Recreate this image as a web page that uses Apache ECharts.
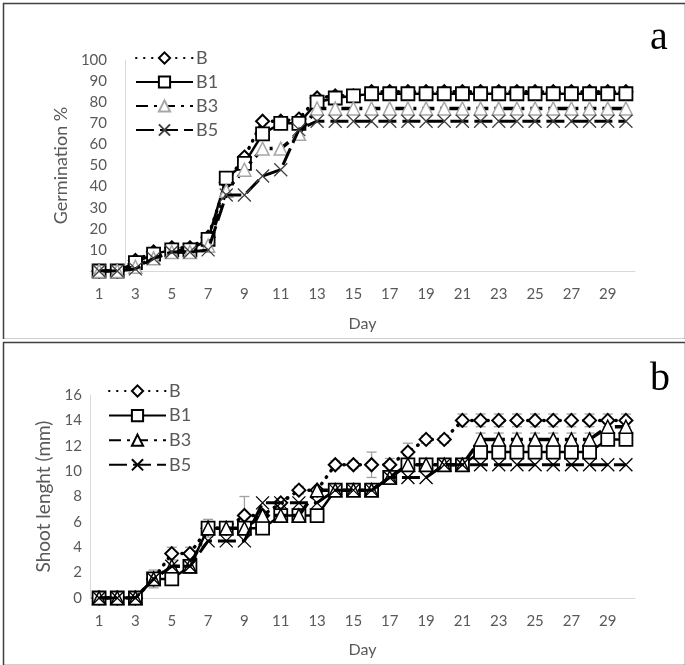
<!DOCTYPE html>
<html><head><meta charset="utf-8">
<script src="https://cdn.jsdelivr.net/npm/echarts@6/dist/echarts.min.js"></script>
<style>html,body{margin:0;padding:0;background:#fff}#a{position:absolute;left:0;top:0;width:685px;height:339px}#b{position:absolute;left:0;top:339px;width:685px;height:326px}</style>
</head><body><div id="a"></div><div id="b"></div>
<script>
const days = [1,2,3,4,5,6,7,8,9,10,11,12,13,14,15,16,17,18,19,20,21,22,23,24,25,26,27,28,29,30];
const ticksX = [1,3,5,7,9,11,13,15,17,19,21,23,25,27,29];
const seriesNames = ['B','B1','B3','B5'];

// Panel a: Germination %
const germB  = [0,0,5,9,11,11,16,42,54,71,71,72,82,83,83,85,85,85,85,85,85,85,85,85,85,85,85,85,85,85];
const germB1 = [0,0,4,8,10,10,15,44,51,65,70,70,80,82,83,84,84,84,84,84,84,84,84,84,84,84,84,84,84,84];
const germB3 = [0,0,2,6,9,9,12,38,48,58,58,65,77,77,77,77,77,77,77,77,77,77,77,77,77,77,77,77,77,77];
const germB5 = [0,0,1,6,9,9,10,36,36,45,48,67,71,71,71,71,71,71,71,71,71,71,71,71,71,71,71,71,71,71];

// Panel b: Shoot length (mm)
const shootB  = [0,0,0,1.5,3.5,3.5,5.5,5.5,6.5,6.5,7.5,8.5,8.5,10.5,10.5,10.5,10.5,11.5,12.5,12.5,14,14,14,14,14,14,14,14,14,14];
const shootB1 = [0,0,0,1.5,1.5,2.5,5.5,5.5,5.5,5.5,6.5,6.5,6.5,8.5,8.5,8.5,9.5,10.5,10.5,10.5,10.5,11.5,11.5,11.5,11.5,11.5,11.5,11.5,12.5,12.5];
const shootB3 = [0,0,0,1.5,2.5,2.5,5.5,5.5,5.5,6.5,6.5,6.5,8.5,8.5,8.5,8.5,9.5,10.5,10.5,10.5,10.5,12.5,12.5,12.5,12.5,12.5,12.5,12.5,13.5,13.5];
const shootB5 = [0,0,0,1.5,2.5,2.5,4.5,4.5,4.5,7.5,7.5,7.5,7.5,8.5,8.5,8.5,9.5,9.5,9.5,10.5,10.5,10.5,10.5,10.5,10.5,10.5,10.5,10.5,10.5,10.5];
const errB  = [0,0,0,0.7,0.5,0.5,0,0,1.5,0,0,0.3,0,0.3,0.3,1,0.5,0.7,0.3,0.3,0.5,0.5,0.5,0.5,0.5,0.5,0.5,0.5,0.5,0.5];
const errB1 = [0,0,0,0,0,0,0.7,0,0,0,0,0,0,0,0,0,0,0,0,0,0,0,0,0,0,0,0,0,0,0];
const errB3 = [0,0,0,0,0,0,0,0,0,0,0,0,0,0,0,0,0,0,0,0,0,0.5,0.5,0.5,0.5,0.5,0.5,0.5,0,0];

const FONT = 'Lato';
const GRAY = '#595959';
const pairs = v => days.map((d,i) => [d, v[i]]);
const XPATH = 'path://M0,0L10,10M10,0L0,10';

function mkSeries(vals, triColor, xColor) {
  const base = [
    {name:'B', symbol:'diamond', symbolSize:13, lineStyle:{color:'#000', width:3.5, type:[0.5,7.5], cap:'round'},
     itemStyle:{color:'#fff', borderColor:'#000', borderWidth:2}},
    {name:'B1', symbol:'rect', symbolSize:13, lineStyle:{color:'#000', width:2.5, type:'solid'},
     itemStyle:{color:'#fff', borderColor:'#000', borderWidth:1.8}},
    {name:'B3', symbol:'triangle', symbolSize:13, lineStyle:{color:'#000', width:3.5, type:[12,6,3,6]},
     itemStyle:{color:'#fff', borderColor:triColor, borderWidth:1.5}},
    {name:'B5', symbol:XPATH, symbolSize:13, lineStyle:{color:'#000', width:3, type:[18,6]},
     itemStyle:{color:'rgba(0,0,0,0)', borderColor:xColor, borderWidth:1.3}}
  ];
  return base.map((s,i) => Object.assign({type:'line', data:pairs(vals[i]), showSymbol:true, animation:false, z:3+i}, s));
}

function xAxisCfg(nameGap) {
  return {type:'value', min:0.5, max:30.5, name:'Day', nameLocation:'middle', nameGap:nameGap,
    nameTextStyle:{color:GRAY, fontSize:16, fontFamily:FONT},
    axisLine:{show:true, lineStyle:{color:'#d9d9d9', width:1}}, axisTick:{show:false},
    splitLine:{show:false},
    axisLabel:{customValues:ticksX, color:GRAY, fontSize:15, fontFamily:FONT, margin:16}};
}

function legendCfg(left, top, gap) {
  return {orient:'vertical', left:left, top:top, itemWidth:57, itemHeight:14, itemGap:gap,
    data:seriesNames, textStyle:{color:GRAY, fontSize:18, fontFamily:FONT, padding:[0,0,0,-2]}, selectedMode:false};
}

function frame(h) {
  return {type:'rect', left:1, top:1, shape:{x:0, y:0, width:682, height:h}, style:{fill:'none', stroke:'#404040', lineWidth:1.5}, silent:true};
}

// Panel a
const chartA = echarts.init(document.getElementById('a'), null, {renderer:'canvas'});
chartA.setOption({
  animation:false,
  grid:{left:90, top:60, width:545, height:211},
  xAxis:xAxisCfg(45),
  yAxis:{type:'value', min:0, max:100, interval:10, offset:-35, name:'Germination %', nameLocation:'middle', nameGap:50,
    nameTextStyle:{color:GRAY, fontSize:18, fontFamily:FONT},
    axisLine:{show:true, lineStyle:{color:'#d9d9d9', width:1}}, axisTick:{show:false}, splitLine:{show:false},
    axisLabel:{color:GRAY, fontSize:15, fontFamily:FONT, margin:18}},
  legend:legendCfg(130, 44, 6),
  series:mkSeries([germB, germB1, germB3, germB5], '#a6a6a6', '#404040'),
  graphic:[frame(336), {type:'text', left:650, top:18, style:{text:'a', font:'40px "Liberation Serif"', fill:'#000'}}]
});

// Panel b
const chartB = echarts.init(document.getElementById('b'), null, {renderer:'canvas'});
const errSeries = [errB, errB1, errB3].map((err, k) => {
  const vals = [shootB, shootB1, shootB3][k];
  return {type:'custom', z:1, animation:false, silent:true,
    data: days.map((d,i) => [d, vals[i], err[i]]).filter(r => r[2] > 0),
    renderItem:(params, api) => {
      const x = api.value(0), y = api.value(1), e = api.value(2);
      const t = api.coord([x, y + e]), b = api.coord([x, y - e]);
      const st = {stroke:'#a0a0a0', lineWidth:1.3};
      return {type:'group', children:[
        {type:'line', shape:{x1:t[0], y1:t[1], x2:b[0], y2:b[1]}, style:st},
        {type:'line', shape:{x1:t[0]-5, y1:t[1], x2:t[0]+5, y2:t[1]}, style:st},
        {type:'line', shape:{x1:b[0]-5, y1:b[1], x2:b[0]+5, y2:b[1]}, style:st}
      ]};
    }};
});
chartB.setOption({
  animation:false,
  grid:{left:90, top:56, width:545, height:203},
  xAxis:xAxisCfg(44),
  yAxis:{type:'value', min:0, max:16, interval:2, name:'Shoot lenght (mm)', nameLocation:'middle', nameGap:33,
    nameTextStyle:{color:GRAY, fontSize:19, fontFamily:FONT},
    axisLine:{show:true, lineStyle:{color:'#d9d9d9', width:1}}, axisTick:{show:false}, splitLine:{show:false},
    axisLabel:{color:GRAY, fontSize:15, fontFamily:FONT, margin:8}},
  legend:legendCfg(103, 38, 6.6),
  series:errSeries.concat(mkSeries([shootB, shootB1, shootB3, shootB5], '#000', '#000')),
  graphic:[frame(323), {type:'text', left:650, top:20, style:{text:'b', font:'40px "Liberation Serif"', fill:'#000'}}]
});
</script>
</body></html>
